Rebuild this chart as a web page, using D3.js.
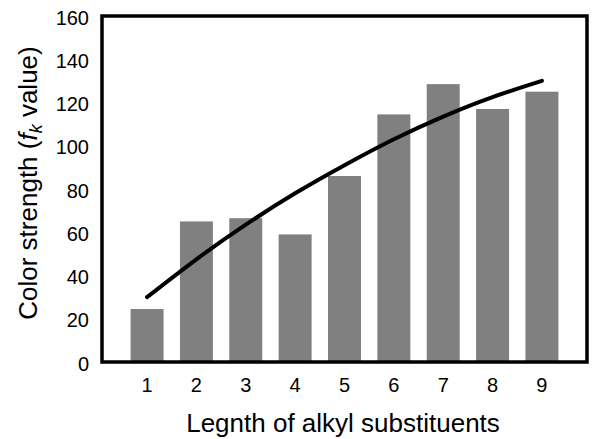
<!DOCTYPE html>
<html>
<head>
<meta charset="utf-8">
<script src="https://cdn.jsdelivr.net/npm/d3@7"></script>
<style>
  body { margin: 0; background: #fff; }
  text { font-family: Arial, "Liberation Sans", sans-serif; fill: #000; }
</style>
</head>
<body>
<svg id="chart" width="592" height="439"></svg>
<script>
// chain length categories and measured colour strength
var lengths = ["1", "2", "3", "4", "5", "6", "7", "8", "9"];
var strength = [24.5, 65, 66.5, 59, 86, 114.5, 128.5, 117, 125];
// trend curve read at each category
var trend = [30, 47.5, 63.5, 78, 91, 103, 113.5, 122.5, 130];
var yTicks = [0, 20, 40, 60, 80, 100, 120, 140, 160];

var svg = d3.select("#chart");

// plot frame edges
var plotL = 102, plotR = 587, plotT = 16, plotB = 362;

var x = d3.scaleBand()
    .domain(lengths)
    .range([plotL, plotR])
    .paddingInner(0.332)
    .paddingOuter(0.579);

var y = d3.scaleLinear()
    .domain([0, 160])
    .range([plotB, plotT]);

// bars
svg.selectAll("rect.bar")
    .data(strength)
    .enter().append("rect")
    .attr("class", "bar")
    .attr("x", (d, i) => x(lengths[i]))
    .attr("y", d => y(d))
    .attr("width", x.bandwidth())
    .attr("height", d => y(0) - y(d))
    .style("fill", "#808080");

// trend line
var line = d3.line()
    .x((d, i) => x(lengths[i]) + x.bandwidth() / 2)
    .y(d => y(d))
    .curve(d3.curveNatural);

svg.append("path")
    .datum(trend)
    .attr("d", line)
    .style("fill", "none")
    .style("stroke", "#000")
    .style("stroke-width", 4)
    .style("stroke-linecap", "round");

// frame
svg.append("rect")
    .attr("x", plotL)
    .attr("y", plotT)
    .attr("width", plotR - plotL)
    .attr("height", plotB - plotT)
    .style("fill", "none")
    .style("stroke", "#000")
    .style("stroke-width", 3.5);

// axes (labels only)
var yAxis = svg.append("g")
    .attr("transform", "translate(" + plotL + ",0)")
    .call(d3.axisLeft(y).tickValues(yTicks).tickSize(0).tickPadding(13));
yAxis.select(".domain").remove();
yAxis.selectAll("text")
    .attr("dy", "0.4em")
    .style("font-size", "20px")
    .style("font-family", "Arial, 'Liberation Sans', sans-serif");

var xAxis = svg.append("g")
    .attr("transform", "translate(0," + plotB + ")")
    .call(d3.axisBottom(x).tickSize(0).tickPadding(16));
xAxis.select(".domain").remove();
xAxis.selectAll("text")
    .style("font-size", "20px")
    .style("font-family", "Arial, 'Liberation Sans', sans-serif");

// axis titles
svg.append("text")
    .attr("x", 343)
    .attr("y", 432)
    .attr("text-anchor", "middle")
    .style("font-size", "26px")
    .text("Legnth of alkyl substituents");

var yl = svg.append("text")
    .attr("transform", "translate(37,183) rotate(-90)")
    .attr("text-anchor", "middle")
    .style("font-size", "26px");
yl.append("tspan").text("Color strength (");
yl.append("tspan").style("font-style", "italic").text("f");
yl.append("tspan").style("font-style", "italic").style("font-size", "18px").attr("dy", 5).text("k");
yl.append("tspan").attr("dy", -5).text(" value)");
</script>
</body>
</html>
